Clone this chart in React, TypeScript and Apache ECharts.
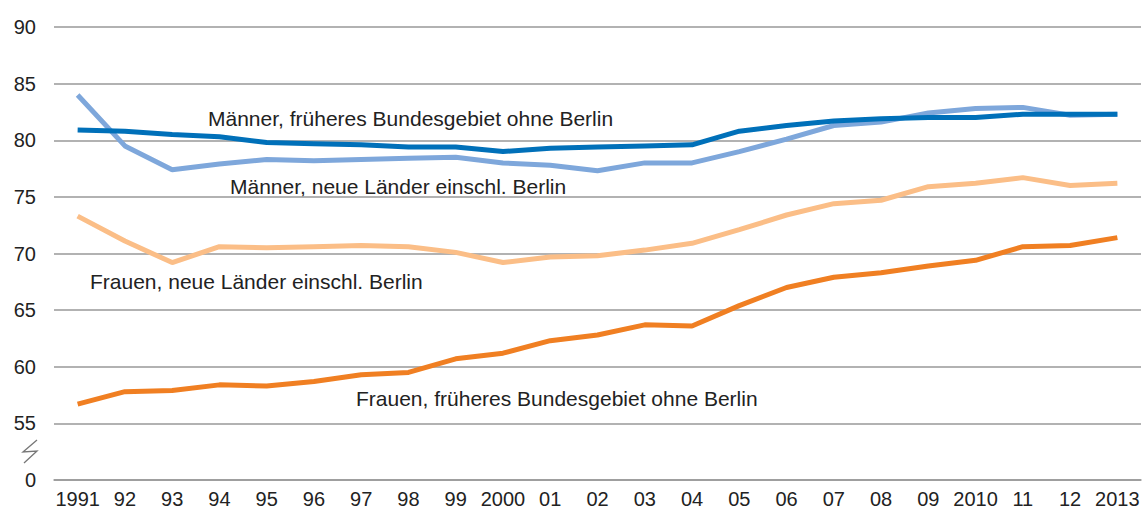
import React, { useEffect, useRef } from "react";
import * as echarts from "echarts";

const years = ["1991","92","93","94","95","96","97","98","99","2000","01","02","03","04","05","06","07","08","09","2010","11","12","2013"];
const maennerWest = [80.9,80.8,80.5,80.3,79.8,79.7,79.6,79.4,79.4,79.0,79.3,79.4,79.5,79.6,80.8,81.3,81.7,81.9,82.0,82.0,82.3,82.3,82.3];
const maennerOst = [84.0,79.5,77.4,77.9,78.3,78.2,78.3,78.4,78.5,78.0,77.8,77.3,78.0,78.0,79.0,80.1,81.3,81.6,82.4,82.8,82.9,82.2,82.3];
const frauenOst = [73.3,71.1,69.2,70.6,70.5,70.6,70.7,70.6,70.1,69.2,69.7,69.8,70.3,70.9,72.1,73.4,74.4,74.7,75.9,76.2,76.7,76.0,76.2];
const frauenWest = [56.7,57.8,57.9,58.4,58.3,58.7,59.3,59.5,60.7,61.2,62.3,62.8,63.7,63.6,65.4,67.0,67.9,68.3,68.9,69.4,70.6,70.7,71.4];
const seriesNames = [
  "Männer, früheres Bundesgebiet ohne Berlin",
  "Männer, neue Länder einschl. Berlin",
  "Frauen, neue Länder einschl. Berlin",
  "Frauen, früheres Bundesgebiet ohne Berlin",
];

export default function App() {
  const ref = useRef<HTMLDivElement>(null);
  useEffect(() => {
    const chart = echarts.init(ref.current!, null, { renderer: "svg" });
    const font = "Liberation Sans, Arial, sans-serif";
    const mk = (name: string, data: number[], color: string, z: number) => ({
      name,
      type: "line",
      data,
      symbol: "none",
      z,
      lineStyle: { color, width: 5 },
      itemStyle: { color },
    });
    const txt = (x: number, y: number, t: string) => ({
      type: "text",
      x,
      y,
      style: { text: t, fontSize: 21, fontFamily: font, fill: "#222", textVerticalAlign: "middle" },
    });
    chart.setOption({
      animation: false,
      backgroundColor: "#fff",
      grid: { left: 54, right: 5, top: 27, bottom: 31 },
      xAxis: {
        type: "category",
        data: years,
        boundaryGap: true,
        axisLine: { lineStyle: { color: "#999", width: 1.5 } },
        axisTick: { alignWithLabel: true, length: 7, lineStyle: { color: "#999" } },
        axisLabel: { color: "#222", fontSize: 20, fontFamily: font, margin: 9, interval: 0 },
      },
      yAxis: {
        type: "value",
        min: 50,
        max: 90,
        interval: 5,
        axisLine: { show: false },
        axisTick: { show: false },
        axisLabel: {
          color: "#222",
          fontSize: 20,
          fontFamily: font,
          margin: 18,
          formatter: (v: number) => (v === 50 ? "0" : String(v)),
        },
        splitLine: { lineStyle: { color: "#999", width: 1.5 } },
      },
      series: [
        mk(seriesNames[3], frauenWest, "#f07f22", 2),
        mk(seriesNames[2], frauenOst, "#fbbe87", 2),
        mk(seriesNames[1], maennerOst, "#7ea7db", 3),
        mk(seriesNames[0], maennerWest, "#0070b9", 4),
      ],
      graphic: [
        txt(208, 118, seriesNames[0]),
        txt(230, 186, seriesNames[1]),
        txt(90, 281, seriesNames[2]),
        txt(356, 398, seriesNames[3]),
        { type: "rect", shape: { x: 0, y: 430, width: 50, height: 40 }, style: { fill: "#fff" }, z: 100 },
        {
          type: "polyline",
          shape: { points: [[37, 440], [23, 452], [37, 451], [24, 463]] },
          style: { stroke: "#777", lineWidth: 1.3, fill: null },
          z: 101,
        },
      ],
    });
    return () => chart.dispose();
  }, []);
  return <div ref={ref} style={{ width: 1146, height: 511, position: "absolute", left: 0, top: 0 }} />;
}
